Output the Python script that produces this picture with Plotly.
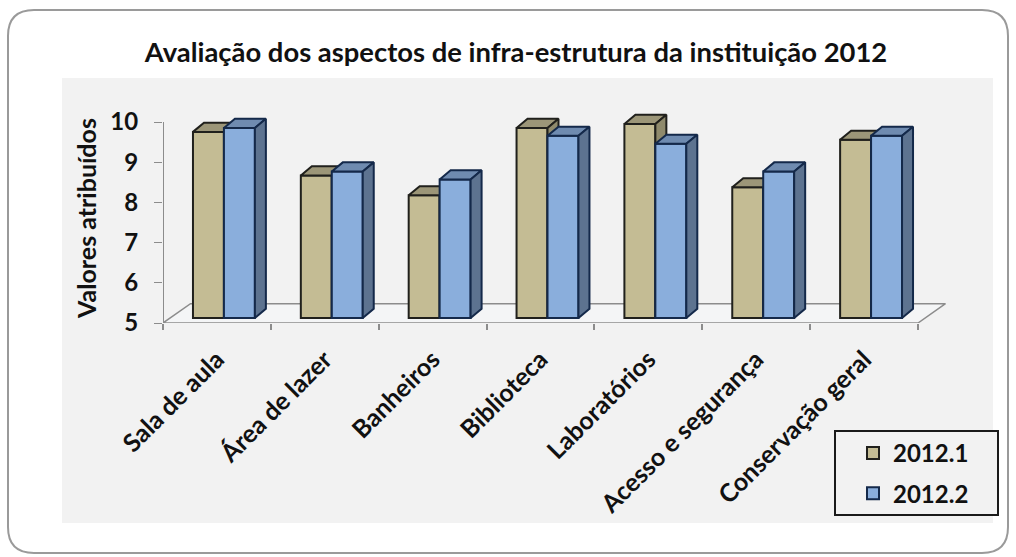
import plotly.graph_objects as go

categories = ["Sala de aula", "Área de lazer", "Banheiros", "Biblioteca",
              "Laboratórios", "Acesso e segurança", "Conservação geral"]
serie_2012_1 = [9.7, 8.6, 8.1, 9.8, 9.9, 8.3, 9.5]
serie_2012_2 = [9.8, 8.7, 8.5, 9.6, 9.4, 8.7, 9.6]
y_ticks = [5, 6, 7, 8, 9, 10]

W, H = 1016, 557
FONT = "Lato"
BAR_W = 0.287
DX, DY = 0.102, 0.23   # bar depth, in axis units
FLOOR_DX, FLOOR_DY = 0.255, 0.48
n = len(categories)
centers = [i + 0.5 for i in range(n)]

CAT_PX = 755 / n        # pixels per category
UNIT_PX = 40.2          # pixels per value on the drawn axis
FRONT_UNIT_PX = 39.6    # pixels per value on the plane of the bars
PLOT_L, PLOT_R, PLOT_T, PLOT_B = 163, 950, 113, 323


def px(x):
    return x / W


def py(y):
    return 1 - y / H


def series_traces(name, values, offset, front, top, side, edge, axes):
    xa, ya = axes
    out = [go.Bar(x=centers, y=[v - 5 for v in values], base=5, width=BAR_W, offset=offset,
                  name=name, legendgroup=name, xaxis=xa, yaxis=ya, cliponaxis=False,
                  marker=dict(color=front, line=dict(color=edge, width=2)))]
    tx, ty, sx, sy = [], [], [], []
    for c, v in zip(centers, values):
        x0, x1 = c + offset, c + offset + BAR_W
        tx += [x0, x1, x1 + DX, x0 + DX, x0, None]
        ty += [v, v, v + DY, v + DY, v, None]
        sx += [x1, x1 + DX, x1 + DX, x1, x1, None]
        sy += [v, v + DY, 5 + DY, 5, v, None]
    for xs, ys, col in ((tx, ty, top), (sx, sy, side)):
        out.append(go.Scatter(x=xs, y=ys, mode="lines", fill="toself", fillcolor=col,
                              line=dict(color=edge, width=2), showlegend=False,
                              xaxis=xa, yaxis=ya, cliponaxis=False, hoverinfo="skip"))
    return out


floor = go.Scatter(x=[0, FLOOR_DX, n + FLOOR_DX, n, 0], y=[5, 5 + FLOOR_DY, 5 + FLOOR_DY, 5, 5],
                   mode="lines", fill="toself", fillcolor="#f4f5f6",
                   line=dict(color="#8c8c8c", width=1.5), showlegend=False, hoverinfo="skip",
                   cliponaxis=False)

fig = go.Figure([floor]
                + series_traces("2012.1", serie_2012_1, -BAR_W, "#c4bc94", "#9c9678", "#8f8a6c", "#20201c", ("x2", "y2"))
                + series_traces("2012.2", serie_2012_2, 0, "#8aaedc", "#6f8bb0", "#5d7390", "#14294a", ("x3", "y3")))

# rounded outer frame and grey panel
l, r, t, b, q = px(8), px(1008), py(10), py(553), 26
frame = (f"M {px(8 + q)} {t} L {px(1008 - q)} {t} Q {r} {t} {r} {py(10 + q)} "
         f"L {r} {py(553 - q)} Q {r} {b} {px(1008 - q)} {b} L {px(8 + q)} {b} "
         f"Q {l} {b} {l} {py(553 - q)} L {l} {py(10 + q)} Q {l} {t} {px(8 + q)} {t} Z")

x_high = (PLOT_R - PLOT_L) / CAT_PX
y_high = 5 + (PLOT_B - PLOT_T) / UNIT_PX
shift_x = 7 / CAT_PX
y2_low = 5 - 5 / FRONT_UNIT_PX
y2_high = y2_low + (PLOT_B - PLOT_T) / FRONT_UNIT_PX
hidden = dict(visible=False, fixedrange=True)
AXIS_GREY = "#8c8c8c"

fig.update_layout(
    width=W, height=H, autosize=False,
    margin=dict(l=0, r=0, t=0, b=0, autoexpand=False),
    paper_bgcolor="white", plot_bgcolor="rgba(0,0,0,0)",
    font=dict(family=FONT, color="#111111"),
    barmode="overlay",
    title=dict(text="<b>Avaliação dos aspectos de infra-estrutura da instituição 2012</b>",
               x=516 / W, xanchor="center", y=py(52), yanchor="middle", automargin=False,
               font=dict(family=FONT, size=27.4, color="#111111")),
    xaxis=dict(domain=[px(PLOT_L), px(PLOT_R)], range=[0, x_high], tickmode="array", tickvals=centers,
               ticktext=[f"<b>{c}</b>" for c in categories], tickangle=-45, ticks="", showgrid=False,
               zeroline=False, showline=False, automargin=False, ticklabelstandoff=16,
               tickfont=dict(family=FONT, size=25, color="#111111"),
               minor=dict(tickmode="array", tickvals=list(range(n + 1)), ticks="outside", ticklen=6,
                          tickcolor=AXIS_GREY, tickwidth=1.5, showgrid=False)),
    yaxis=dict(domain=[py(PLOT_B), py(PLOT_T)], range=[5, y_high], tickmode="array", tickvals=y_ticks,
               ticktext=[f"<b>{v}</b>" for v in y_ticks], ticks="outside", ticklen=8, tickcolor=AXIS_GREY,
               showgrid=False, zeroline=False, showline=False, automargin=False, ticklabelstandoff=11,
               tickfont=dict(family=FONT, size=24, color="#111111"),
               title=dict(text="<b>Valores atribuídos</b>", font=dict(family=FONT, size=25, color="#111111"),
                          standoff=6)),
    xaxis2=dict(overlaying="x", range=[-shift_x, x_high - shift_x], **hidden),
    yaxis2=dict(overlaying="y", range=[y2_low, y2_high], **hidden),
    xaxis3=dict(overlaying="x", range=[-shift_x, x_high - shift_x], **hidden),
    yaxis3=dict(overlaying="y", range=[y2_low, y2_high], **hidden),
    legend=dict(x=px(853), y=py(431), xanchor="left", yanchor="top", bgcolor="rgba(0,0,0,0)",
                borderwidth=0,
                font=dict(family=FONT, size=24, color="#111111", weight="bold"), itemwidth=30,
                tracegroupgap=6),
    shapes=[
        dict(type="path", xref="paper", yref="paper", path=frame, fillcolor="white",
             line=dict(color="#9a9a9a", width=2), layer="below"),
        dict(type="rect", xref="paper", yref="paper", x0=px(62), x1=px(993), y0=py(523), y1=py(78),
             fillcolor="#f2f2f2", line=dict(width=0), layer="below"),
        dict(type="rect", xref="paper", yref="paper", x0=px(835), x1=px(998), y0=py(515), y1=py(431),
             fillcolor="#f2f2f2", line=dict(color="#1a1a1a", width=2), layer="below"),
        dict(type="line", xref="x", yref="y", x0=0, x1=0, y0=5, y1=10,
             line=dict(color=AXIS_GREY, width=2), layer="above"),
        dict(type="line", xref="x", yref="y", x0=0, x1=n, y0=5, y1=5,
             line=dict(color=AXIS_GREY, width=2), layer="below"),
    ],
)

fig.write_html("out.html", config=dict(displayModeBar=False),
               post_script="document.body.style.margin='0';")
